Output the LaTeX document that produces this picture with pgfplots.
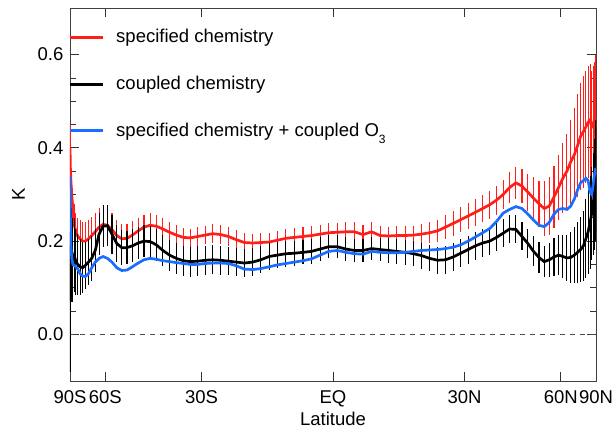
\documentclass[border=0pt]{standalone}
\usepackage{fontspec}
\setmainfont{Liberation Sans}
\usepackage{pgfplots}
\pgfplotsset{compat=1.18}
\usepackage{pgfplotstable}

\definecolor{specred}{RGB}{255,30,25}
\definecolor{cplblue}{RGB}{25,110,255}
\newcommand{\bigfont}{\fontsize{18.5bp}{22bp}\selectfont}

% zonal mean K on a 1.875 deg grid: lat, specified (r, err), coupled (k, err), specified+O3 (b)
\pgfplotstableread{
lat    r     re    k     ke    b
-89.06 0.400 0.050 0.070 0.150 0.340
-87.19 0.360 0.050 0.190 0.130 0.260
-85.31 0.330 0.045 0.140 0.110 0.190
-83.44 0.300 0.045 0.170 0.100 0.165
-81.56 0.270 0.045 0.160 0.090 0.150
-79.69 0.235 0.045 0.170 0.080 0.148
-77.81 0.220 0.040 0.155 0.070 0.145
-75.94 0.210 0.040 0.150 0.065 0.140
-74.06 0.205 0.040 0.145 0.060 0.130
-72.19 0.200 0.040 0.143 0.055 0.125
-70.31 0.200 0.040 0.148 0.050 0.124
-68.44 0.205 0.040 0.155 0.050 0.130
-66.56 0.212 0.040 0.163 0.048 0.143
-64.69 0.220 0.040 0.180 0.046 0.155
-62.81 0.230 0.040 0.215 0.045 0.163
-60.94 0.236 0.040 0.232 0.045 0.167
-59.06 0.234 0.038 0.233 0.044 0.163
-57.19 0.225 0.036 0.215 0.042 0.155
-55.31 0.212 0.034 0.195 0.040 0.143
-53.44 0.205 0.032 0.186 0.038 0.137
-51.56 0.206 0.030 0.186 0.036 0.138
-49.69 0.213 0.030 0.190 0.035 0.145
-47.81 0.222 0.028 0.196 0.035 0.153
-45.94 0.230 0.027 0.200 0.034 0.160
-44.06 0.234 0.026 0.199 0.034 0.163
-42.19 0.232 0.025 0.192 0.034 0.161
-40.31 0.226 0.024 0.180 0.033 0.158
-38.44 0.219 0.023 0.170 0.033 0.156
-36.56 0.213 0.022 0.163 0.033 0.154
-34.69 0.208 0.021 0.158 0.032 0.152
-32.81 0.207 0.020 0.156 0.032 0.150
-30.94 0.210 0.020 0.157 0.032 0.150
-29.06 0.213 0.020 0.159 0.031 0.152
-27.19 0.216 0.020 0.160 0.031 0.153
-25.31 0.214 0.020 0.159 0.031 0.153
-23.44 0.210 0.020 0.157 0.030 0.152
-21.56 0.203 0.020 0.155 0.030 0.147
-19.69 0.197 0.020 0.153 0.030 0.140
-17.81 0.196 0.020 0.155 0.030 0.139
-15.94 0.197 0.020 0.160 0.029 0.141
-14.06 0.198 0.020 0.167 0.029 0.145
-12.19 0.202 0.020 0.170 0.028 0.149
-10.31 0.206 0.020 0.173 0.028 0.152
-8.44  0.208 0.020 0.174 0.027 0.155
-6.56  0.210 0.020 0.176 0.026 0.158
-4.69  0.212 0.020 0.178 0.026 0.162
-2.81  0.215 0.020 0.183 0.025 0.170
-0.94  0.218 0.020 0.188 0.025 0.178
0.94   0.219 0.020 0.188 0.025 0.180
2.81   0.220 0.020 0.183 0.025 0.176
4.69   0.220 0.020 0.180 0.025 0.173
6.56   0.214 0.020 0.180 0.025 0.172
8.44   0.220 0.020 0.184 0.025 0.178
10.31  0.212 0.020 0.182 0.025 0.176
12.19  0.211 0.020 0.180 0.026 0.175
14.06  0.212 0.020 0.178 0.026 0.175
15.94  0.212 0.020 0.176 0.027 0.176
17.81  0.213 0.020 0.173 0.027 0.178
19.69  0.215 0.021 0.169 0.028 0.180
21.56  0.218 0.022 0.163 0.028 0.181
23.44  0.222 0.023 0.159 0.029 0.182
25.31  0.230 0.025 0.160 0.030 0.184
27.19  0.238 0.026 0.166 0.030 0.187
29.06  0.246 0.027 0.174 0.030 0.192
30.94  0.254 0.028 0.182 0.030 0.200
32.81  0.262 0.029 0.190 0.030 0.209
34.69  0.270 0.030 0.196 0.030 0.218
36.56  0.278 0.030 0.200 0.030 0.227
38.44  0.288 0.031 0.208 0.030 0.242
40.31  0.300 0.032 0.217 0.030 0.260
42.19  0.315 0.033 0.226 0.030 0.268
44.06  0.325 0.034 0.225 0.030 0.274
45.94  0.318 0.036 0.210 0.030 0.270
47.81  0.305 0.040 0.195 0.031 0.258
49.69  0.292 0.045 0.178 0.032 0.245
51.56  0.280 0.050 0.165 0.033 0.234
53.44  0.270 0.058 0.156 0.034 0.231
55.31  0.275 0.062 0.160 0.036 0.240
57.19  0.295 0.066 0.166 0.040 0.258
59.06  0.315 0.070 0.170 0.043 0.268
60.94  0.335 0.075 0.167 0.046 0.270
62.81  0.350 0.080 0.164 0.050 0.268
64.69  0.370 0.090 0.165 0.055 0.275
66.56  0.385 0.100 0.170 0.060 0.290
68.44  0.405 0.110 0.176 0.065 0.310
70.31  0.425 0.115 0.182 0.070 0.325
72.19  0.435 0.120 0.190 0.075 0.330
74.06  0.445 0.120 0.205 0.085 0.335
75.94  0.455 0.120 0.220 0.090 0.330
77.81  0.460 0.120 0.240 0.100 0.305
79.69  0.445 0.120 0.260 0.100 0.300
81.56  0.450 0.125 0.280 0.110 0.320
83.44  0.460 0.125 0.300 0.120 0.340
85.31  0.455 0.130 0.320 0.120 0.350
87.19  0.465 0.130 0.330 0.120 0.355
89.06  0.470 0.130 0.340 0.120 0.357
}\zonal

\begin{document}
\begin{tikzpicture}
\useasboundingbox (-70bp,-48bp) rectangle (544bp,381bp);
\begin{axis}[
    scale only axis,
    width=526bp, height=373bp,
    xmin=-1, xmax=1,
    ymin=-0.1, ymax=0.7,
    xtick={-1,-0.8660,-0.5,0,0.5,0.8660,1},
    xticklabels={90S,60S,30S,EQ,30N,60N,90N},
    ytick={0,0.2,0.4,0.6},
    minor y tick num=3,
    tick align=inside,
    major tick length=9bp,
    minor tick length=6bp,
    tick style={black!80, line width=0.8bp},
    axis line style={black!75, line width=0.9bp},
    /pgf/number format/assume math mode=true,
    ticklabel style={font=\bigfont},
    yticklabel style={anchor=east, inner sep=0pt, xshift=-6.5bp,
        /pgf/number format/fixed, /pgf/number format/fixed zerofill,
        /pgf/number format/precision=1},
    xticklabel style={anchor=base, inner sep=0pt, yshift=-22.5bp},
    label style={font=\bigfont},
    xlabel={Latitude},
    ylabel={K},
    xlabel style={at={(axis description cs:0.5,-0.1195)}, anchor=base, inner sep=0pt},
    ylabel style={at={(axis description cs:-0.0856,0.5)}, anchor=base, inner sep=0pt},
]
\addplot[black!70, line width=0.8bp, dash pattern=on 5bp off 5bp] coordinates {(-1,0) (1,0)};

\addplot[specred, line width=2.7bp,
    error bars/.cd, y dir=both, y explicit, error mark=none,
    error bar style={line width=1.1bp, specred}]
    table[x expr={sin(\thisrow{lat})}, y=r, y error=re] {\zonal};

\addplot[black, line width=2.7bp,
    error bars/.cd, y dir=both, y explicit, error mark=none,
    error bar style={line width=1.1bp, black}]
    table[x expr={sin(\thisrow{lat})}, y=k, y error=ke] {\zonal};

\addplot[cplblue, line width=2.7bp]
    table[x expr={sin(\thisrow{lat})}, y=b] {\zonal};

% legend
\draw[specred, line width=2.7bp] (axis cs:-1,0.6366) -- (axis cs:-0.876,0.6366);
\node[anchor=base west, inner sep=0pt, font=\bigfont] at (axis cs:-0.825,0.6251) {specified chemistry};
\draw[black, line width=2.7bp] (axis cs:-1,0.5366) -- (axis cs:-0.876,0.5366);
\node[anchor=base west, inner sep=0pt, font=\bigfont] at (axis cs:-0.825,0.5251) {coupled chemistry};
\draw[cplblue, line width=2.7bp] (axis cs:-1,0.4367) -- (axis cs:-0.876,0.4367);
\node[anchor=base west, inner sep=0pt, font=\bigfont] at (axis cs:-0.825,0.4252) {specified chemistry + coupled O\raisebox{-7bp}{\fontsize{12bp}{12bp}\selectfont 3}};
\end{axis}
\end{tikzpicture}
\end{document}
